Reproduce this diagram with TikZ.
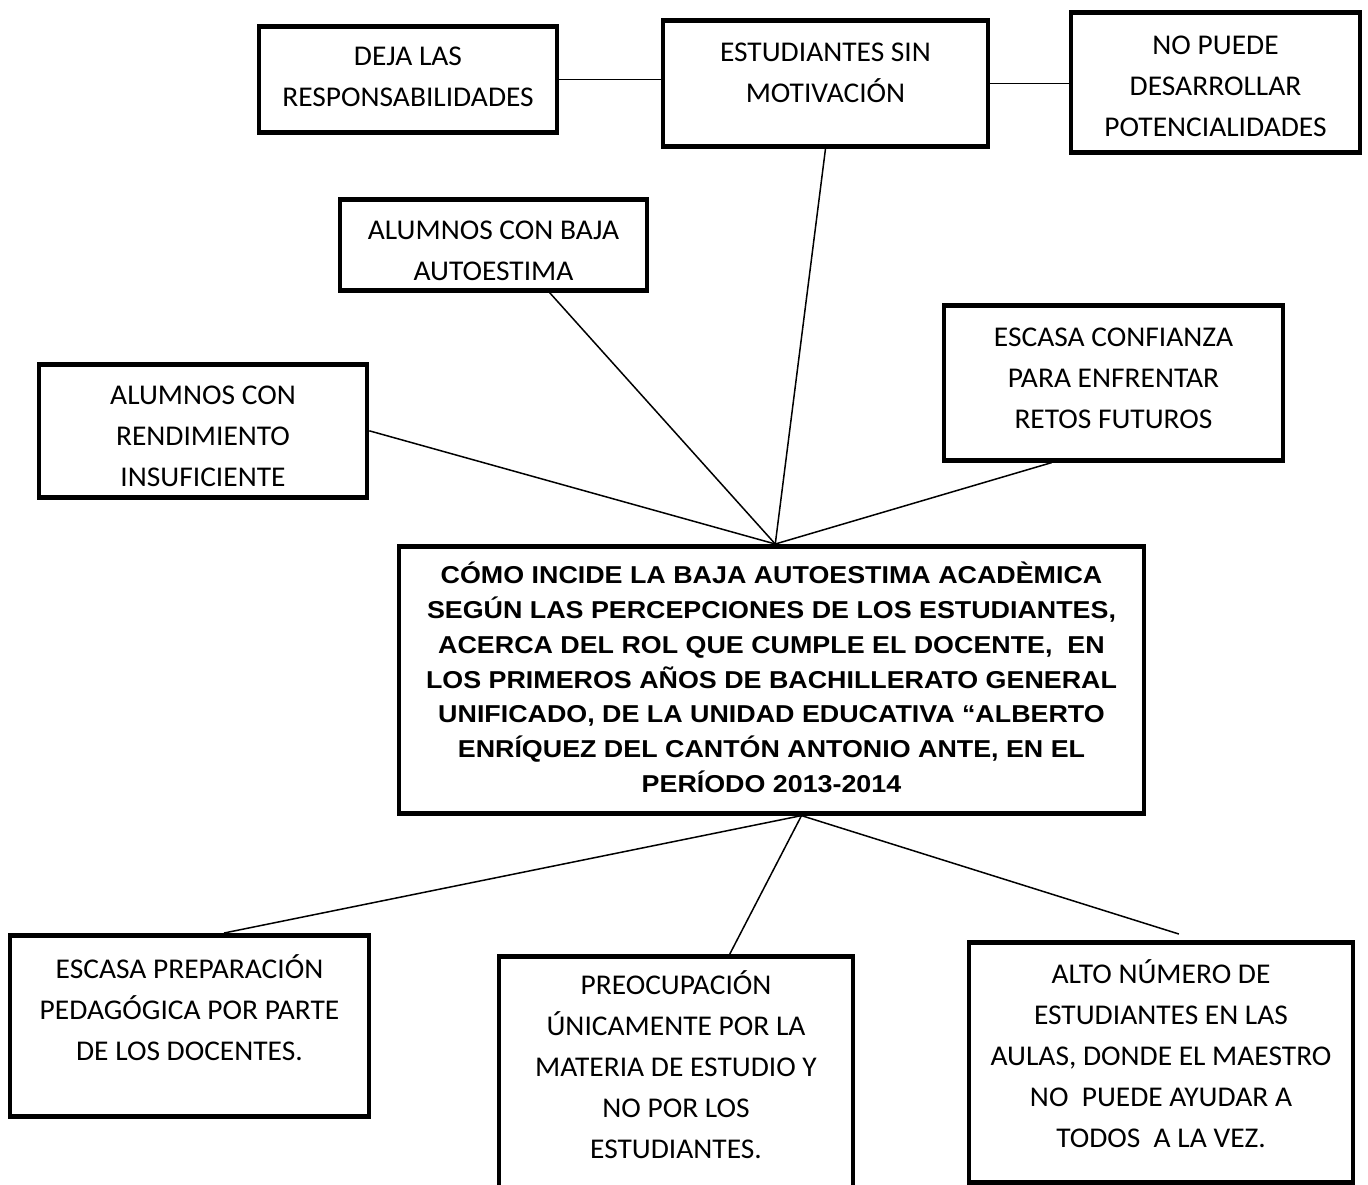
\documentclass[tikz,border=0pt]{standalone}
\usepackage{fontspec}
\setmainfont[FakeStretch=1.03]{Carlito}
\newfontfamily\titlefont[FakeStretch=1.1]{Liberation Sans}
\usetikzlibrary{calc}
\newcommand{\renglones}[1]{\begin{tabular}[t]{@{}c@{}}#1\end{tabular}}
\begin{document}
\begin{tikzpicture}[x=0.5pt,y=-0.5pt,
    caja/.style={draw,line width=2.3pt,inner sep=0pt,anchor=north,
      font=\fontsize{14.3pt}{20.5pt}\selectfont},
    titulo/.style={caja,font=\titlefont\bfseries\fontsize{12.2pt}{17.35pt}\selectfont},
    enlace/.style={line width=0.75pt}]
            \useasboundingbox (0,0) rectangle (1368,1184);
            \clip (0,0) rectangle (1368,1184);
            \node [caja,minimum width=149pt,text height=19.6pt,text depth=33.4pt] (deja) at (408,24) {\renglones{DEJA LAS\\RESPONSABILIDADES}};
            \node [caja,minimum width=162.5pt,text height=20.6pt,text depth=42.4pt] (motiv) at (825.5,18) {\renglones{ESTUDIANTES SIN\\MOTIVACIÓN}};
            \node [caja,minimum width=144.5pt,text height=21.1pt,text depth=48.9pt] (potenc) at (1215.5,10) {\renglones{NO PUEDE\\DESARROLLAR\\POTENCIALIDADES}};
            \node [caja,minimum width=153.5pt,text height=20.1pt,text depth=25.4pt] (autoest) at (493.5,197) {\renglones{ALUMNOS CON BAJA\\AUTOESTIMA}};
            \node [caja,minimum width=164pt,text height=20.1pt,text depth=46.4pt] (rendim) at (203,362) {\renglones{ALUMNOS CON\\RENDIMIENTO\\INSUFICIENTE}};
            \node [caja,minimum width=169.5pt,text height=20.6pt,text depth=56.9pt] (confia) at (1113.5,303) {\renglones{ESCASA CONFIANZA\\PARA ENFRENTAR\\RETOS FUTUROS}};
            \node [titulo,minimum width=372.5pt,text height=18.8pt,text depth=114.7pt] (central) at (771.5,544) {\renglones{CÓMO INCIDE LA BAJA AUTOESTIMA ACADÈMICA\\SEGÚN LAS PERCEPCIONES DE LOS ESTUDIANTES,\\ACERCA DEL ROL QUE CUMPLE EL DOCENTE,\ \ EN\\LOS PRIMEROS AÑOS DE BACHILLERATO GENERAL\\UNIFICADO, DE LA UNIDAD EDUCATIVA “ALBERTO\\ENRÍQUEZ DEL CANTÓN ANTONIO ANTE, EN EL\\PERÍODO 2013-2014}};
            \node [caja,minimum width=179.5pt,text height=21.6pt,text depth=68.9pt] (prepar) at (189.5,933) {\renglones{ESCASA PREPARACIÓN\\PEDAGÓGICA POR PARTE\\DE LOS DOCENTES.}};
            \node [caja,minimum width=177pt,text height=19.1pt,text depth=98.9pt] (preocu) at (676,954) {\renglones{PREOCUPACIÓN\\ÚNICAMENTE POR LA\\MATERIA DE ESTUDIO Y\\NO POR LOS\\ESTUDIANTES.}};
            \node [caja,minimum width=192pt,text height=20.6pt,text depth=99.4pt] (aulas) at (1161,940) {\renglones{ALTO NÚMERO DE\\ESTUDIANTES EN LAS\\AULAS, DONDE EL MAESTRO\\NO\ \ PUEDE AYUDAR A\\TODOS\ \ A LA VEZ.}};
            \coordinate (cima) at ($(central.north west)!0.505!(central.north east)$);
            \coordinate (base) at ($(central.south west)!0.54!(central.south east)$);
            \coordinate (aulasTope) at ($(aulas.north west)!0.546!(aulas.north east)+(0,-6)$);
            \draw [enlace] (deja.east) -- (deja.east -| motiv.west);
            \draw [enlace] (motiv.east) -- (motiv.east -| potenc.west);
            \draw [enlace] (motiv.south) -- (cima);
            \draw [enlace] ($(autoest.south west)!0.68!(autoest.south east)$) -- (cima);
            \draw [enlace] (rendim.east) -- (cima);
            \draw [enlace] ($(confia.south west)!0.32!(confia.south east)$) -- (cima);
            \draw [enlace] (base) -- ($(prepar.north west)!0.595!(prepar.north east)$);
            \draw [enlace] (base) -- ($(preocu.north west)!0.65!(preocu.north east)$);
            \draw [enlace] (base) -- (aulasTope);
            \end{tikzpicture}
\end{document}
